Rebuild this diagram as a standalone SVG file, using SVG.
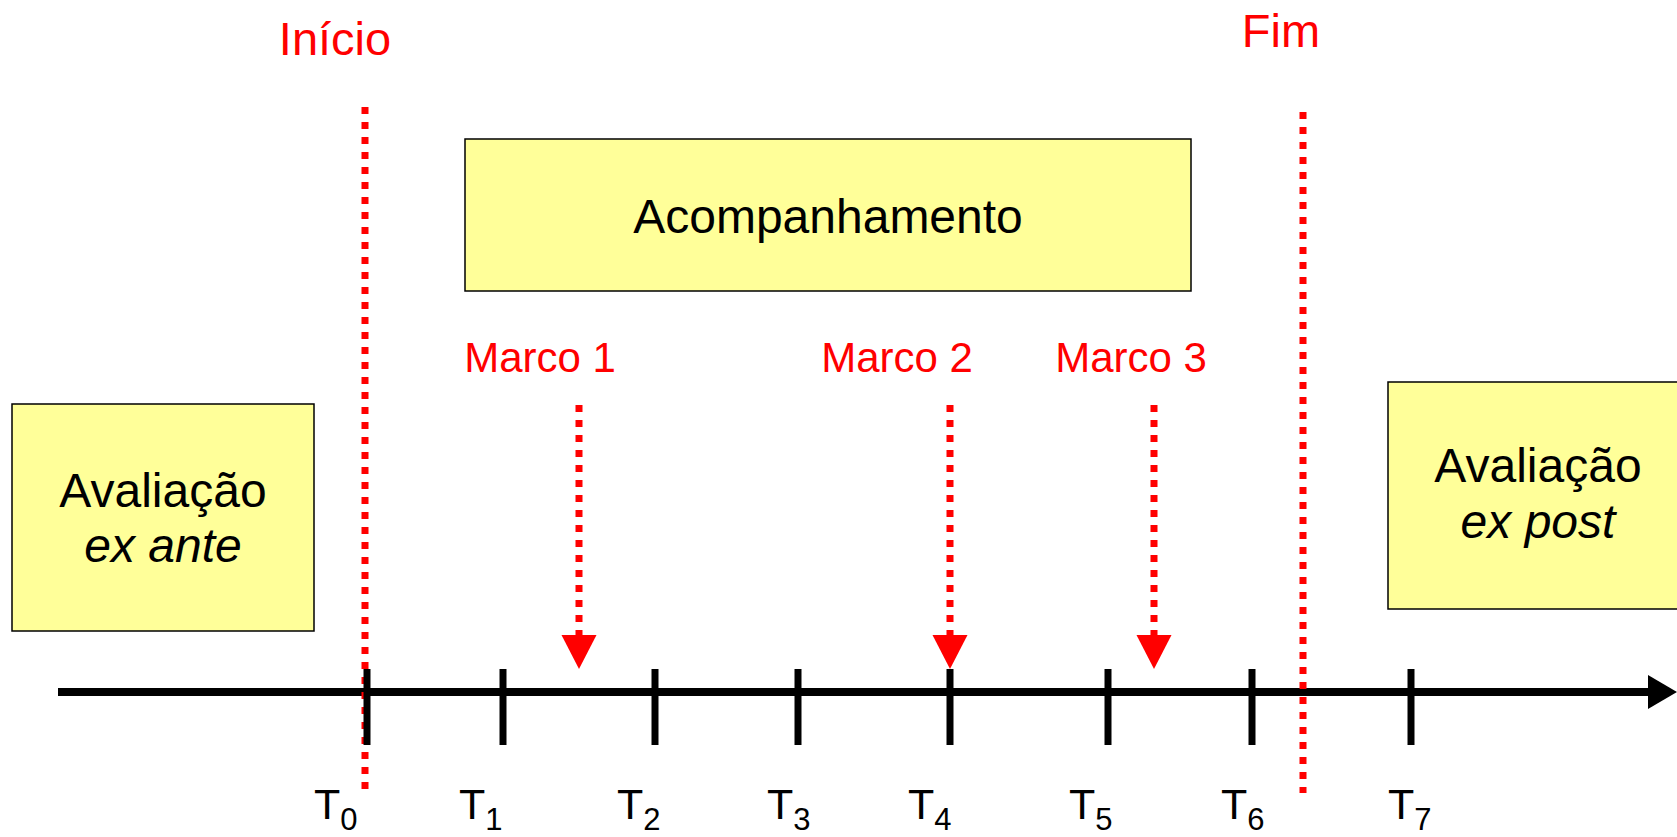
<svg xmlns="http://www.w3.org/2000/svg" width="1677" height="837" viewBox="0 0 1677 837">
  <style>
    .box { fill: #FFFF99; stroke: #000; stroke-width: 1.5; }
    .lbl { font-family: "Liberation Sans", Arial, sans-serif; font-size: 48px; fill: #000; text-anchor: middle; }
    .red { font-family: "Liberation Sans", Arial, sans-serif; fill: #FF0000; text-anchor: middle; }
    .tl { font-family: "Liberation Sans", Arial, sans-serif; font-size: 43px; fill: #000; }
    .sub { font-size: 31px; }
    .dot { stroke: #FF0000; stroke-width: 7; stroke-dasharray: 7 8; fill: none; }
    .tick { stroke: #000; stroke-width: 7; }
  </style>

  <!-- evaluation boxes -->
  <g id="ex-ante">
    <rect class="box" x="12" y="404" width="302" height="227"/>
    <text class="lbl" x="163" y="507">Avaliação</text>
    <text class="lbl" x="163" y="562" font-style="italic">ex ante</text>
  </g>
  <g id="acompanhamento">
    <rect class="box" x="465" y="139" width="726" height="152"/>
    <text class="lbl" x="828" y="233">Acompanhamento</text>
  </g>
  <g id="ex-post">
    <rect class="box" x="1388" y="382" width="300" height="227"/>
    <text class="lbl" x="1538" y="482">Avaliação</text>
    <text class="lbl" x="1538" y="538" font-style="italic">ex post</text>
  </g>

  <g id="connectors">
    <!-- time axis -->
    <line x1="58" y1="692" x2="1650" y2="692" stroke="#000" stroke-width="8"/>
    <polygon points="1648,675 1677,692 1648,709" fill="#000"/>

    <!-- start / end markers -->
    <line class="dot" x1="365" y1="107" x2="365" y2="791"/>
    <line class="dot" x1="1303" y1="112" x2="1303" y2="793"/>

    <!-- ticks -->
    <line class="tick" x1="367" y1="669" x2="367" y2="745"/>
    <line class="tick" x1="503" y1="669" x2="503" y2="745"/>
    <line class="tick" x1="655" y1="669" x2="655" y2="745"/>
    <line class="tick" x1="798" y1="669" x2="798" y2="745"/>
    <line class="tick" x1="950" y1="669" x2="950" y2="745"/>
    <line class="tick" x1="1108" y1="669" x2="1108" y2="745"/>
    <line class="tick" x1="1252" y1="669" x2="1252" y2="745"/>
    <line class="tick" x1="1411" y1="669" x2="1411" y2="745"/>

    <!-- milestone arrows -->
    <line class="dot" x1="579" y1="405" x2="579" y2="637"/>
    <polygon points="561.5,635 596.5,635 579,669" fill="#FF0000"/>
    <line class="dot" x1="950" y1="405" x2="950" y2="637"/>
    <polygon points="932.5,635 967.5,635 950,669" fill="#FF0000"/>
    <line class="dot" x1="1154" y1="405" x2="1154" y2="637"/>
    <polygon points="1136.5,635 1171.5,635 1154,669" fill="#FF0000"/>
  </g>

  <!-- red labels -->
  <g id="labels-red">
    <text class="red" x="335" y="55" font-size="47">Início</text>
    <text class="red" x="1281" y="47" font-size="47">Fim</text>
    <text class="red" x="540" y="372" font-size="42">Marco 1</text>
    <text class="red" x="897" y="372" font-size="42">Marco 2</text>
    <text class="red" x="1131" y="372" font-size="42">Marco 3</text>
  </g>

  <!-- time labels -->
  <g id="labels-time">
    <text class="tl" x="314" y="819">T<tspan class="sub" dy="11">0</tspan></text>
    <text class="tl" x="459" y="819">T<tspan class="sub" dy="11">1</tspan></text>
    <text class="tl" x="617" y="819">T<tspan class="sub" dy="11">2</tspan></text>
    <text class="tl" x="767" y="819">T<tspan class="sub" dy="11">3</tspan></text>
    <text class="tl" x="908" y="819">T<tspan class="sub" dy="11">4</tspan></text>
    <text class="tl" x="1069" y="819">T<tspan class="sub" dy="11">5</tspan></text>
    <text class="tl" x="1221" y="819">T<tspan class="sub" dy="11">6</tspan></text>
    <text class="tl" x="1388" y="819">T<tspan class="sub" dy="11">7</tspan></text>
  </g>
</svg>
